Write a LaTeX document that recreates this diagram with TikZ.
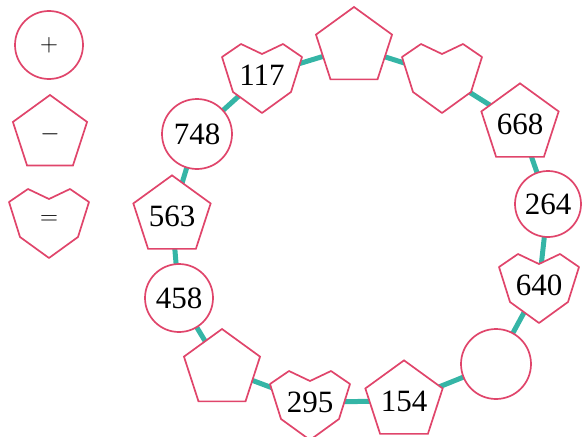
\documentclass[tikz,border=0pt]{standalone}
\usepackage{fontspec}
\newfontfamily\numfamily{Liberation Serif}
\usetikzlibrary{shapes.geometric}
\definecolor{rosa}{HTML}{E0456B}
\definecolor{ringteal}{HTML}{35B5A6}
\pgfdeclarelayer{ringlayer}
\pgfdeclarelayer{heartlayer}
\pgfsetlayers{ringlayer,heartlayer,main}
\newcommand\numfont{\numfamily\fontsize{31}{31}\selectfont}
\newcommand\symfont{\fontsize{24}{24}\selectfont}
\newcommand\heartpath[1]{%
  \draw[heartline, shift={(#1.center)}]
    (0,-21) -- (21,-31) -- (40,-18) -- (29,17) -- (0,38) -- (-29,17) -- (-40,-18) -- (-21,-31) -- cycle;}
\begin{document}
\begin{tikzpicture}[x=1pt,y=-1pt,
  circ/.style={circle, draw=rosa, line width=1.7pt, fill=white, minimum size=#1, inner sep=0pt, font=\numfont},
  circ/.default=70pt,
  pent/.style={regular polygon, regular polygon sides=5, draw=rosa, line width=1.7pt, fill=white, minimum size=80pt, inner sep=0pt, font=\numfont},
  hrt/.style={circle, inner sep=0pt, minimum size=10pt, font=\numfont},
  heartline/.style={draw=rosa, line width=1.7pt, fill=white, line join=round},
  ringline/.style={draw=ringteal, line width=5pt}]
\useasboundingbox (0,0) rectangle (585,436);
% legend
\node[circ=68pt, font=\symfont] (lplus) at (49,45) {$+$};
\node[pent, minimum size=78pt, font=\symfont] (lminus) at (50,134) {$-$};
\node[hrt, font=\symfont] (leq) at (49,220) {$=$};
% ring
\node[pent] (pT) at (354,47) {};
\node[hrt] (hE) at (442,75) {};
\node[pent] (p668) at (520,124) {668};
\node[circ=66pt] (c264) at (548,204) {264};
\node[hrt] (h640) at (539,285) {640};
\node[circ] (cE) at (496,364) {};
\node[pent] (p154) at (404,401) {154};
\node[hrt] (h295) at (310,402) {295};
\node[pent] (pE) at (222,369) {};
\node[circ=68pt] (c458) at (179,298) {458};
\node[pent] (p563) at (172,216) {563};
\node[circ] (c748) at (197,134) {748};
\node[hrt] (h117) at (262,75) {117};
\begin{pgfonlayer}{heartlayer}
\heartpath{leq}
\heartpath{hE}
\heartpath{h640}
\heartpath{h295}
\heartpath{h117}
\end{pgfonlayer}
\begin{pgfonlayer}{ringlayer}
\draw[ringline] (pT.center) -- (hE.center) -- (p668.center) -- (c264.center) -- (h640.center) -- (cE.center) -- (p154.center) -- (h295.center) -- (pE.center) -- (c458.center) -- (p563.center) -- (c748.center) -- (h117.center) -- cycle;
\end{pgfonlayer}
\end{tikzpicture}
\end{document}
